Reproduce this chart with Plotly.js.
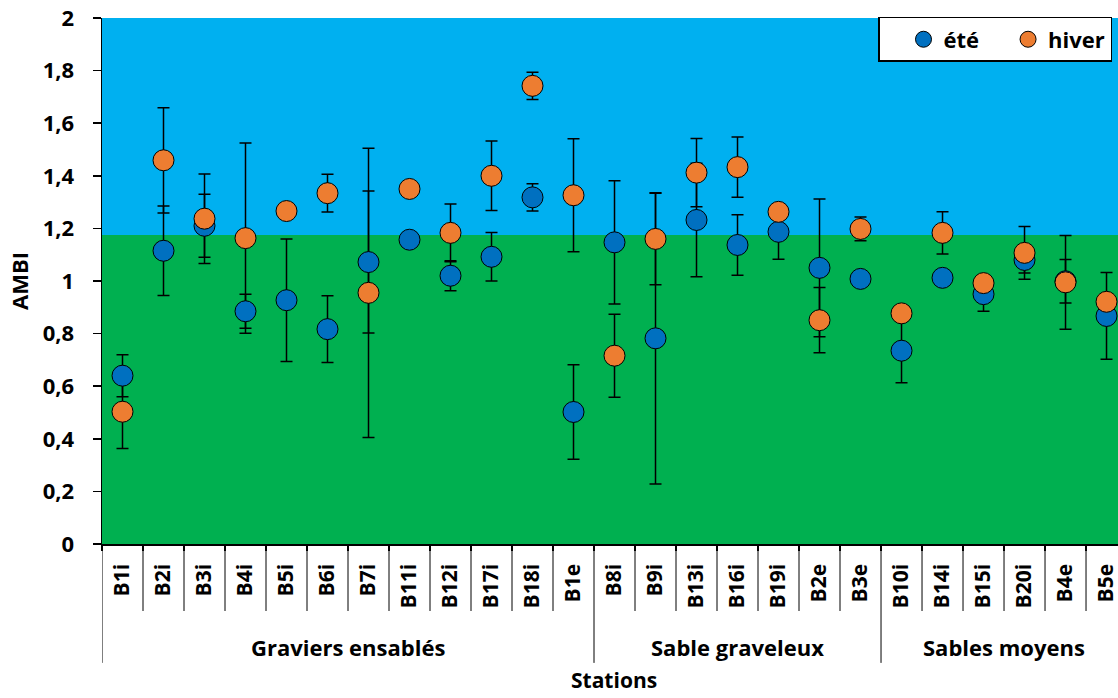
<!DOCTYPE html>
<html>
<head>
<meta charset="utf-8">
<script src="https://cdn.plot.ly/plotly-3.0.1.min.js"></script>
<style>html,body{margin:0;padding:0;background:#fff;}#chart{width:1118px;height:698px;}</style>
</head>
<body>
<div id="chart"></div>
<script>
const categories = ['B1i','B2i','B3i','B4i','B5i','B6i','B7i','B11i','B12i','B17i','B18i','B1e','B8i','B9i','B13i','B16i','B19i','B2e','B3e','B10i','B14i','B15i','B20i','B4e','B5e'];
const ete = [0.64, 1.115, 1.21, 0.885, 0.927, 0.817, 1.072, 1.157, 1.02, 1.092, 1.318, 0.502, 1.147, 0.782, 1.232, 1.137, 1.187, 1.05, 1.008, 0.735, 1.012, 0.95, 1.08, 0.999, 0.867];
const hiver = [0.503, 1.459, 1.237, 1.163, 1.266, 1.334, 0.955, 1.35, 1.183, 1.40, 1.742, 1.326, 0.716, 1.16, 1.412, 1.433, 1.263, 0.851, 1.198, 0.877, 1.183, 0.992, 1.107, 0.995, 0.921];
const eteErr = [0.08, 0.17, 0.12, 0.065, 0.233, 0.127, 0.27, 0, 0.057, 0.092, 0.052, 0.18, 0.234, 0.554, 0.216, 0.115, 0.104, 0.262, 0, 0.122, 0, 0.065, 0.05, 0.083, 0.165];
const hiverErr = [0.14, 0.20, 0.17, 0.362, 0, 0.072, 0.55, 0, 0.11, 0.132, 0.052, 0.215, 0.158, 0.174, 0.13, 0.115, 0, 0.124, 0.045, 0, 0.08, 0, 0.1, 0.178, 0];
const groups = ['Graviers ensablés', 'Sable graveleux', 'Sables moyens'];
const groupSizes = [12, 7, 6];
const threshold = 1.175;
const yTicks = [0, 0.2, 0.4, 0.6, 0.8, 1, 1.2, 1.4, 1.6, 1.8, 2];

const FONT = 'Open Sans, Noto Sans, DejaVu Sans, sans-serif';
const BLUE = '#0070C0', ORANGE = '#ED7D31';

function errTrace(y, err) {
  return {
    x: categories, y: y, type: 'scatter', mode: 'markers',
    marker: {size: 21, opacity: 0}, showlegend: false, hoverinfo: 'skip',
    error_y: {type: 'data', array: err, symmetric: true, visible: true, color: '#000', thickness: 1.5, width: 6}
  };
}
function markTrace(name, y, color) {
  return {
    x: categories, y: y, type: 'scatter', mode: 'markers', name: name,
    marker: {size: 21, color: color, line: {color: '#000', width: 1}}
  };
}

const data = [
  errTrace(ete, eteErr),
  errTrace(hiver, hiverErr),
  markTrace('été', ete, BLUE),
  markTrace('hiver', hiver, ORANGE)
];

const shapes = [
  {type: 'rect', xref: 'paper', yref: 'y', x0: 0, x1: 1, y0: 0, y1: threshold, fillcolor: '#00B050', line: {width: 0}, layer: 'below'},
  {type: 'rect', xref: 'paper', yref: 'y', x0: 0, x1: 1, y0: threshold, y1: 2, fillcolor: '#00B0F0', line: {width: 0}, layer: 'below'}
];
const annotations = [];
let start = 0;
const groupStarts = [];
groups.forEach((g, gi) => {
  groupStarts.push(start);
  const end = start + groupSizes[gi] - 1;
  annotations.push({
    xref: 'x', yref: 'paper', x: (start + end) / 2, y: -0.196,
    text: g, showarrow: false, xanchor: 'center', yanchor: 'middle',
    font: {family: FONT, size: 22, color: '#000', weight: 'bold'}
  });
  start = end + 1;
});
for (let k = 0; k < categories.length; k++) {
  const isGroup = groupStarts.indexOf(k) >= 0;
  shapes.push({
    type: 'line', xref: 'x', yref: 'paper', x0: k - 0.5, x1: k - 0.5,
    y0: 0, y1: isGroup ? -0.226 : -0.1274,
    line: {color: '#000', width: 1}
  });
}
annotations.push({
  xref: 'paper', yref: 'paper', x: (614 - 102) / 1016, y: -0.258, text: 'Stations',
  showarrow: false, xanchor: 'center', yanchor: 'middle',
  font: {family: FONT, size: 21, color: '#000', weight: 'bold'}
});
annotations.push({
  xref: 'paper', yref: 'paper', x: (19 - 102) / 1016, y: 0.5, text: 'AMBI', textangle: -90,
  showarrow: false, xanchor: 'center', yanchor: 'middle',
  font: {family: FONT, size: 22, color: '#000', weight: 'bold'}
});

const layout = {
  width: 1118, height: 698,
  margin: {l: 102, r: 0, t: 18, b: 154, autoexpand: false},
  paper_bgcolor: '#fff', plot_bgcolor: '#00B0F0',
  separators: ', ',
  font: {family: FONT, color: '#000'},
  showlegend: true,
  legend: {
    x: (878 - 102) / 1016, y: 1.002, xanchor: 'left', yanchor: 'top',
    orientation: 'h', bgcolor: '#fff', bordercolor: '#000', borderwidth: 1.5,
    font: {family: FONT, size: 22, color: '#000', weight: 'bold'},
    indentation: 24
  },
  xaxis: {
    type: 'category', range: [-0.5, 24.28], showgrid: false, zeroline: false,
    showline: true, linecolor: '#000', linewidth: 1.5,
    ticks: 'outside', tickson: 'boundaries', ticklen: 5, tickcolor: '#000', tickwidth: 1.5,
    tickangle: -90, ticklabelstandoff: 10,
    tickfont: {family: FONT, size: 21, color: '#000', weight: 'bold'}
  },
  yaxis: {
    range: [0, 2], tickvals: yTicks, showgrid: false, zeroline: false,
    showline: true, linecolor: '#000', linewidth: 1.5,
    ticks: 'outside', ticklen: 8, tickcolor: '#000', tickwidth: 1.5,
    ticklabelstandoff: 14,
    tickfont: {family: FONT, size: 22, color: '#000', weight: 'bold'}
  },
  shapes: shapes,
  annotations: annotations
};

Plotly.newPlot('chart', data, layout, {displayModeBar: false, staticPlot: true});
</script>
</body>
</html>
